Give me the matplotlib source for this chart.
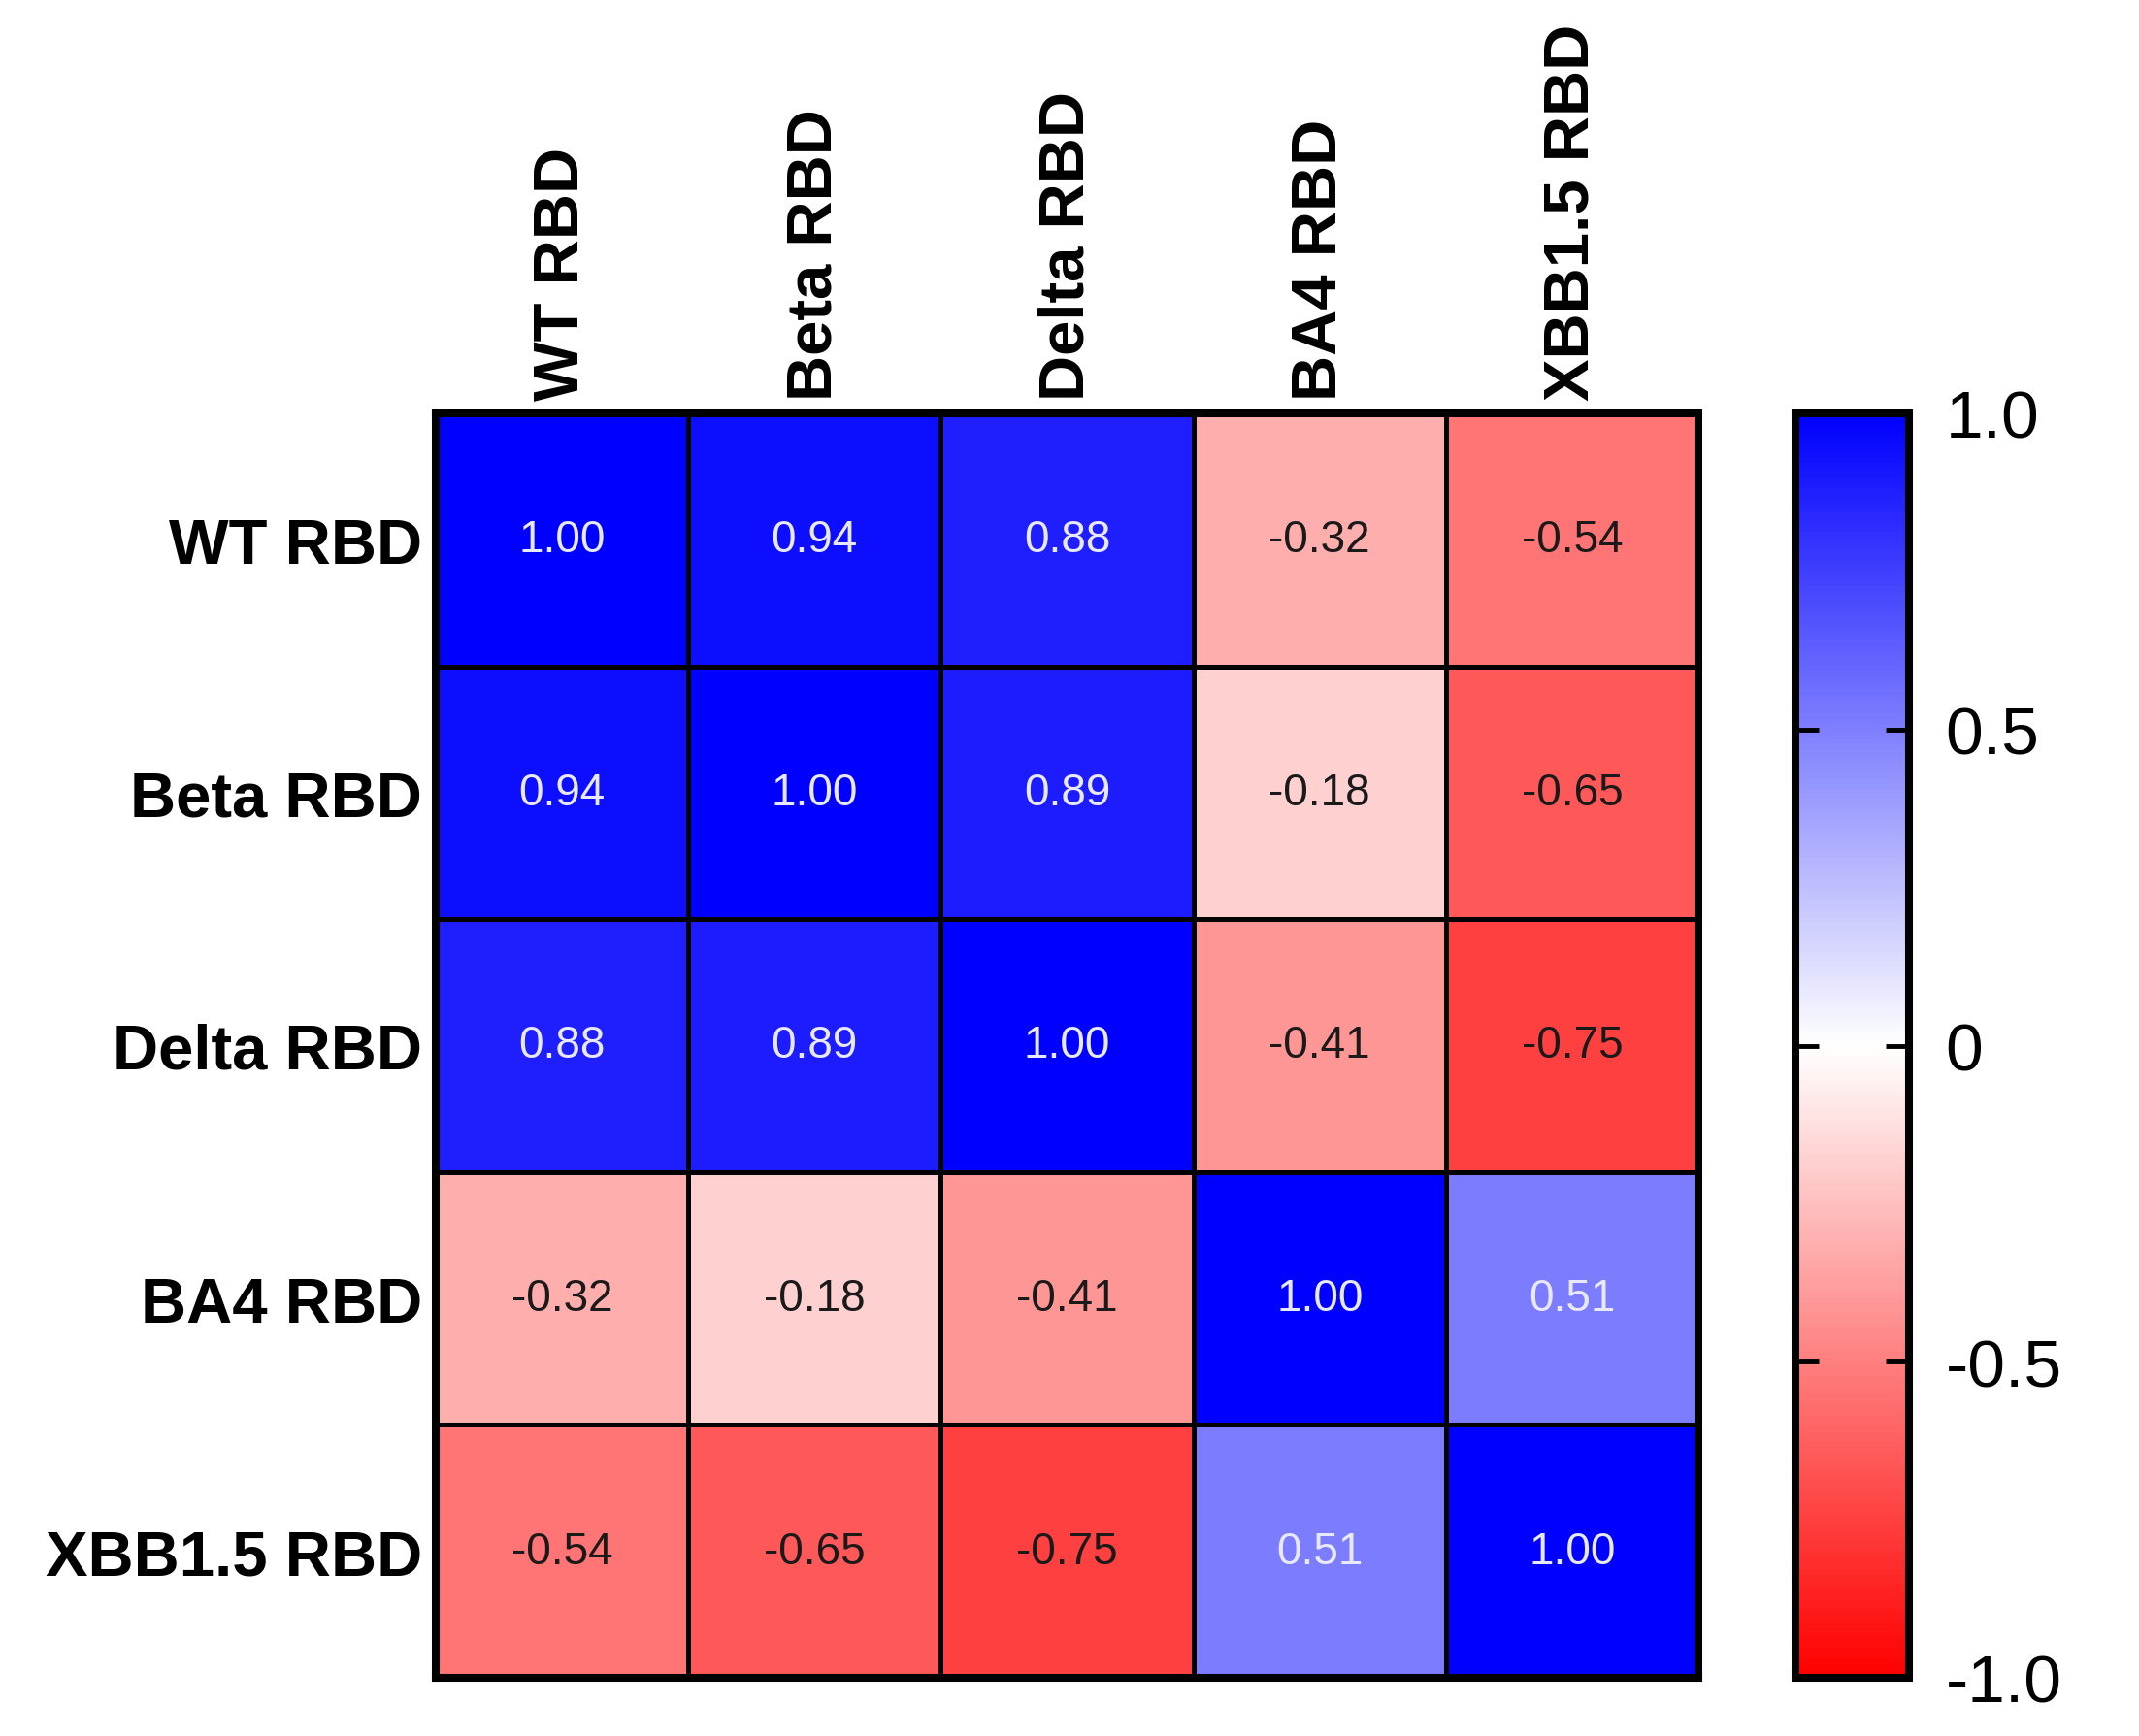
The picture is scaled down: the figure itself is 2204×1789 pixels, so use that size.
import numpy as np
import matplotlib
matplotlib.use("Agg")
import matplotlib.pyplot as plt
from matplotlib.colors import LinearSegmentedColormap

plt.rcParams['font.family'] = ['Liberation Sans', 'DejaVu Sans']

labels = ["WT RBD", "Beta RBD", "Delta RBD", "BA4 RBD", "XBB1.5 RBD"]
row_wt = [1.00, 0.94, 0.88, -0.32, -0.54]
row_beta = [0.94, 1.00, 0.89, -0.18, -0.65]
row_delta = [0.88, 0.89, 1.00, -0.41, -0.75]
row_ba4 = [-0.32, -0.18, -0.41, 1.00, 0.51]
row_xbb = [-0.54, -0.65, -0.75, 0.51, 1.00]
cbar_ticks = [-1.0, -0.5, 0.0, 0.5, 1.0]
cbar_ticklabels = ["-1.0", "-0.5", "0", "0.5", "1.0"]

M = np.array([row_wt, row_beta, row_delta, row_ba4, row_xbb])
n = len(labels)

cmap = LinearSegmentedColormap.from_list("rwb", ["#FF0000", "#FFFFFF", "#0000FF"])

W, H = 2204, 1790
fig = plt.figure(figsize=(W / 100, H / 100), dpi=100)
ax = fig.add_axes([449 / W, (H - 1730) / H, 1301 / W, 1303 / H])
cax = fig.add_axes([1850 / W, (H - 1730) / H, 117 / W, 1303 / H])

mesh = ax.pcolormesh(np.arange(n + 1), np.arange(n + 1), M, cmap=cmap, vmin=-1, vmax=1,
                     edgecolors="black", linewidth=2.2)
ax.set_xlim(0, n)
ax.set_ylim(n, 0)
for s in ax.spines.values():
    s.set_linewidth(5.8)
    s.set_color("black")

for i in range(n):
    for j in range(n):
        v = M[i, j]
        col = "#E8E8FF" if v > 0.3 else "#1A1A1A"
        ax.text(j + 0.5, i + 0.5, f"{v:.2f}", ha="center", va="center",
                fontsize=33, color=col)

ax.xaxis.tick_top()
ax.set_xticks(np.arange(n) + 0.5)
ax.set_xticklabels(labels, rotation=90, fontsize=47, fontweight="bold", ha="center", va="bottom")
ax.set_yticks(np.arange(n) + 0.5)
ax.set_yticklabels(labels, fontsize=47, fontweight="bold")
ax.tick_params(axis="both", length=0, pad=10)

cb = fig.colorbar(mesh, cax=cax, ticks=cbar_ticks)
cb.ax.set_yticklabels(cbar_ticklabels)
cb.outline.set_linewidth(5.8)
cax.tick_params(axis="y", direction="in", left=True, right=True, length=17, width=3.5,
                labelsize=50, pad=27, color="black")

fig.savefig("out.png", dpi=100, facecolor="white")
